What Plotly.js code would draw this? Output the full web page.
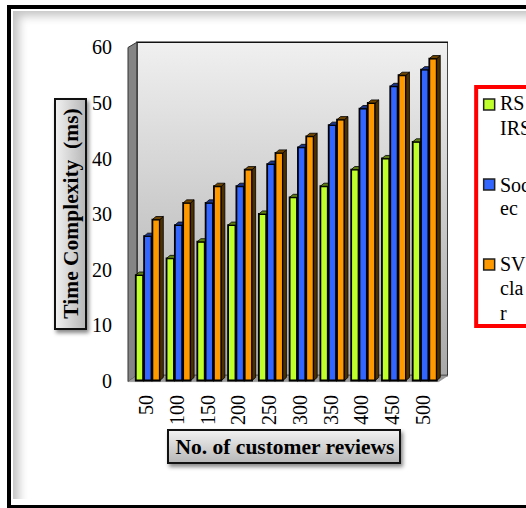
<!DOCTYPE html>
<html>
<head>
<meta charset="utf-8">
<script src="https://cdn.plot.ly/plotly-3.0.1.min.js"></script>
<style>
  html, body { margin: 0; padding: 0; width: 526px; height: 508px; overflow: hidden; background: #fff; }
  #frame { position: absolute; left: 7px; top: 5px; width: 560px; height: 496px; border: 4px solid #000; background: #fff; }
  #bevel { position: absolute; left: 2px; top: 2px; width: 600px; height: 488px; box-shadow: inset 11px 10px 10px -5px #c4c4c4; }
  .titlebox { position: absolute; box-sizing: border-box; border: 2px solid #111; box-shadow: 2px 3px 4px #888; }
  #xbox { left: 167px; top: 429px; width: 234px; height: 35px; background: linear-gradient(#f0f0f0, #b8b8b8); }
  #ybox { left: 54px; top: 98px; width: 33px; height: 232px; background: linear-gradient(90deg, #f0f0f0, #b8b8b8); }
  #chart { position: absolute; left: 0; top: 0; width: 526px; height: 508px; }
</style>
</head>
<body>
<div id="frame"><div id="bevel"></div></div>
<div class="titlebox" id="xbox"></div>
<div class="titlebox" id="ybox"></div>
<div id="chart"></div>
<script>
// Response time per number of customer reviews, drawn as oblique 3-D columns
const categories = ['50','100','150','200','250','300','350','400','450','500'];
const rsIrs  = [19,22,25,28,30,33,35,38,40,43];
const socSec = [26,28,32,35,39,42,46,49,53,56];
const svmCls = [29,32,35,38,41,44,47,50,55,58];

const yTicks = [0,10,20,30,40,50,60];
const serif = '"Liberation Serif", "Times New Roman", serif';

// Axis window, in data units
const xRange = [-0.795, 9.8];
const yRange = [-1.17, 61.35];
const idx = categories.map((_, i) => i);

// Column geometry and the oblique depth, in data units
const barW = 0.24;
const depthX = 0.115, depthY = 0.55;
const layers = [
  {name:'RS IRS',  vals:rsIrs,  off:-0.227, front:'#BFFF2B', cap:'#5d7f12', side:'#4a660d', axis:['x2','y2']},
  {name:'Soc ec',  vals:socSec, off: 0.043, front:'#3366FF', cap:'#1b3488', side:'#14276a', axis:['x3','y3']},
  {name:'SV cla r',vals:svmCls, off: 0.313, front:'#FF9900', cap:'#6e4400', side:'#4d3000', axis:['x4','y4']}
];

// Wall and floor outlines of the chart box
const wall = {x0:-0.6, x1:9.8, xb:-0.31, xf:9.5, y0:-0.2, y1:60, yb:0.9, yt:60.95};
const traces = [
  {x:[wall.xb,wall.x1,wall.x1,wall.xb,wall.xb], y:[wall.yb,wall.yb,wall.yt,wall.yt,wall.yb], type:'scatter', mode:'lines',
   fill:'toself', fillgradient:{type:'vertical', colorscale:[[0,'#a8a8a8'],[1,'#f0f0f0']]},
   line:{color:'#111', width:1.5}, hoverinfo:'skip', showlegend:false},
  {x:[wall.x0,wall.xb,wall.xb,wall.x0,wall.x0], y:[wall.y0,wall.yb,wall.yt,wall.y1,wall.y0], type:'scatter', mode:'lines',
   fill:'toself', fillcolor:'#858585', line:{color:'#333', width:1}, hoverinfo:'skip', showlegend:false},
  {x:[wall.x0,wall.xb,wall.x1,wall.xf,wall.x0], y:[wall.y0,wall.yb,wall.yb,wall.y0,wall.y0], type:'scatter', mode:'lines',
   fill:'toself', fillcolor:'#9a9a9a', line:{color:'#777', width:0.5}, hoverinfo:'skip', showlegend:false}
];

// Each series sits on its own overlaid axis pair so later columns hide the depth of earlier ones
layers.forEach(s => {
  const capX = [], capY = [], sideX = [], sideY = [];
  s.vals.forEach((v, i) => {
    const l = i + s.off - barW / 2, r = i + s.off + barW / 2;
    capX.push(l, l + depthX, r + depthX, r, l, null);
    capY.push(v, v + depthY, v + depthY, v, v, null);
    sideX.push(r, r + depthX, r + depthX, r, r, null);
    sideY.push(v, v + depthY, depthY, 0, v, null);
  });
  traces.push({x:idx, y:s.vals, type:'bar', name:s.name, width:barW, offset:s.off - barW / 2,
    xaxis:s.axis[0], yaxis:s.axis[1], marker:{color:s.front, line:{color:'#000', width:1.8}}, showlegend:false});
  traces.push({x:sideX, y:sideY, type:'scatter', mode:'lines', fill:'toself', fillcolor:s.side,
    xaxis:s.axis[0], yaxis:s.axis[1], line:{color:'#000', width:0.8}, hoverinfo:'skip', showlegend:false});
  traces.push({x:capX, y:capY, type:'scatter', mode:'lines', fill:'toself', fillcolor:s.cap,
    xaxis:s.axis[0], yaxis:s.axis[1], line:{color:'#000', width:0.8}, hoverinfo:'skip', showlegend:false});
});

const W = 526, H = 508;
const margin = {l:122, r:W - 448.3, t:40, b:H - 387, pad:0};
const px = v => (v - margin.l) / (W - margin.l - margin.r);
const py = v => 1 - (v - margin.t) / (H - margin.t - margin.b);

// Legend box, running off the right edge of the page
const legendRows = [
  {color:'#BFFF2B', top:99,  lines:['RS','IRS'],      baselines:[110,135]},
  {color:'#3366FF', top:179, lines:['Soc','ec'],      baselines:[192,215]},
  {color:'#FF9900', top:259, lines:['SV','cla','r'],  baselines:[271,295,320]}
];
const shapes = [{type:'rect', xref:'paper', yref:'paper', x0:px(476.5), x1:px(600), y0:py(87), y1:py(326),
  line:{color:'#FF0000', width:4}, fillcolor:'rgba(255,255,255,0)'}];
const annotations = [];
legendRows.forEach(r => {
  shapes.push({type:'rect', xref:'paper', yref:'paper', x0:px(484), x1:px(495), y0:py(r.top), y1:py(r.top + 11),
    line:{color:'#222', width:1.5}, fillcolor:r.color});
  r.lines.forEach((text, k) => {
    annotations.push({xref:'paper', yref:'paper', x:px(499.5), y:py(r.baselines[k] + 5), xanchor:'left', yanchor:'bottom', align:'left',
      showarrow:false, text, borderpad:0, font:{family:serif, size:20, color:'#000'}});
  });
});

const overlay = (range, over) => ({range, overlaying:over, visible:false, fixedrange:true});

const layout = {
  width:W, height:H, margin, showlegend:false, barmode:'overlay',
  paper_bgcolor:'rgba(0,0,0,0)', plot_bgcolor:'rgba(0,0,0,0)',
  font:{family:serif, color:'#000'},
  xaxis:{range:xRange, tickmode:'array', tickvals:idx, ticktext:categories, tickangle:-90, ticks:'', showgrid:false, zeroline:false,
    showline:false, ticklabelstandoff:3, tickfont:{family:serif, size:20, color:'#000'},
    title:{text:'No. of customer reviews', standoff:14, font:{family:serif, size:21.5, color:'#000', weight:'bold'}}},
  yaxis:{range:yRange, tickmode:'array', tickvals:yTicks, ticks:'', showgrid:false, zeroline:false,
    showline:false, ticklabelstandoff:9, tickfont:{family:serif, size:20, color:'#000'},
    title:{text:'Time Complexity\u00a0\u00a0(ms)', standoff:7, font:{family:serif, size:21.5, color:'#000', weight:'bold'}}},
  xaxis2:overlay(xRange,'x'), yaxis2:overlay(yRange,'y'),
  xaxis3:overlay(xRange,'x'), yaxis3:overlay(yRange,'y'),
  xaxis4:overlay(xRange,'x'), yaxis4:overlay(yRange,'y'),
  shapes, annotations
};

Plotly.newPlot('chart', traces, layout, {displayModeBar:false, staticPlot:true});
</script>
</body>
</html>
